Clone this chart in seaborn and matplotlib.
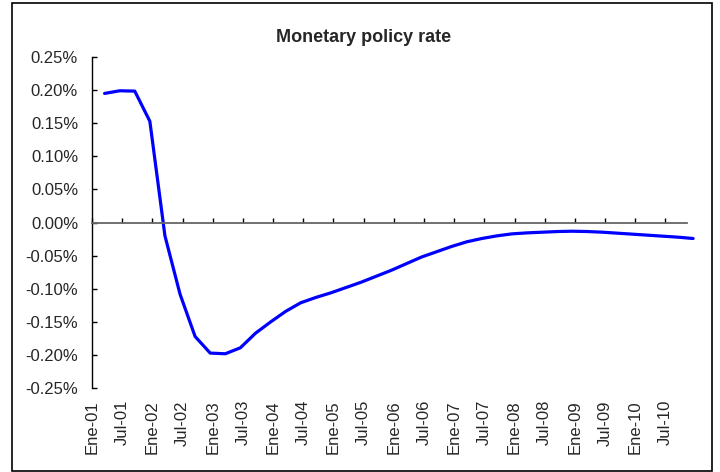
import numpy as np
import pandas as pd
import matplotlib
matplotlib.use("Agg")
import matplotlib.pyplot as plt
import matplotlib.patches as mpatches
from matplotlib.ticker import FuncFormatter
import seaborn as sns

# ---- data (quarter-end values, percent) ----
quarters = pd.period_range("2001Q1", "2010Q4", freq="Q")
rate_pct = [0.195, 0.199, 0.1985, 0.153,
            -0.020, -0.108, -0.172, -0.197,
            -0.198, -0.189, -0.167, -0.150,
            -0.134, -0.121, -0.113, -0.106,
            -0.098, -0.090, -0.081, -0.072,
            -0.062, -0.052, -0.044, -0.036,
            -0.029, -0.024, -0.020, -0.017,
            -0.0155, -0.0145, -0.0135, -0.013,
            -0.0135, -0.0145, -0.016, -0.0175,
            -0.019, -0.0205, -0.022, -0.024]
tick_labels = ["Ene-01", "Jul-01", "Ene-02", "Jul-02", "Ene-03", "Jul-03",
               "Ene-04", "Jul-04", "Ene-05", "Jul-05", "Ene-06", "Jul-06",
               "Ene-07", "Jul-07", "Ene-08", "Jul-08", "Ene-09", "Jul-09",
               "Ene-10", "Jul-10"]
y_ticks = [-0.25, -0.20, -0.15, -0.10, -0.05, 0.0, 0.05, 0.10, 0.15, 0.20, 0.25]
title = "Monetary policy rate"

# monthly category axis: each month is one category, point at the centre of quarter-end month
end_month = quarters.asfreq("M", how="end")
month_idx = [(p.year - 2001) * 12 + (p.month - 1) + 0.5 for p in end_month]
df = pd.DataFrame({"month": month_idx, "rate": rate_pct})
tick_pos = [6 * k for k in range(len(tick_labels))]

sns.set_style("white")
plt.rcParams["font.family"] = ["Liberation Sans", "DejaVu Sans"]

fig = plt.figure(figsize=(7.2, 4.72), dpi=100)
ax = fig.add_axes([92 / 720, 1 - 388.2 / 472, 594.6 / 720, 331.2 / 472])

sns.lineplot(data=df, x="month", y="rate", ax=ax, color="#0000FF",
             linewidth=2.3, clip_on=False)

ax.set_xlim(0, 118.2)
ax.set_ylim(-0.25, 0.25)
ax.set_xlabel("")
ax.set_ylabel("")

for s in ["top", "right"]:
    ax.spines[s].set_visible(False)
ax.spines["left"].set_color("black")
ax.spines["left"].set_linewidth(1.0)
ax.spines["bottom"].set_position(("data", 0))
ax.spines["bottom"].set_color("#666666")
ax.spines["bottom"].set_linewidth(1.3)

ax.set_yticks(y_ticks)
ax.yaxis.set_major_formatter(FuncFormatter(lambda v, p: f"{v:.2f}%"))
ax.tick_params(axis="y", direction="in", length=3.6, width=1.0, color="black",
               labelsize=12, pad=10, left=True)

ax.set_xticks(tick_pos)
ax.set_xticklabels([])
ax.tick_params(axis="x", direction="in", length=3.6, width=1.0, color="black",
               bottom=True, labelbottom=False)

sec = ax.secondary_xaxis("bottom")
sec.set_xticks(tick_pos)
sec.set_xticklabels(tick_labels, rotation=90, fontsize=12)
sec.tick_params(length=0, pad=8.5)
sec.spines["bottom"].set_visible(False)

fig.text(364 / 720, 1 - 38 / 472, title, ha="center", va="center",
         fontsize=13, fontweight="bold")

border = mpatches.Rectangle((12 / 720, 1.3 / 472), 700 / 720, 468 / 472,
                            transform=fig.transFigure, fill=False,
                            edgecolor="black", linewidth=1.2)
fig.patches.append(border)

fig.savefig("out.png", dpi=100)
